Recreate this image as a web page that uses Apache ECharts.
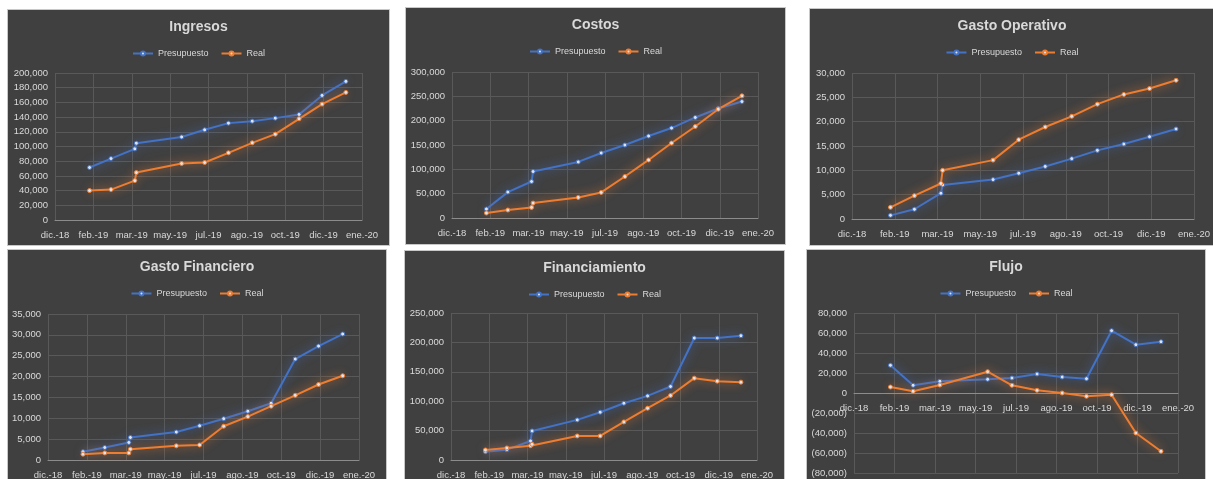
<!DOCTYPE html>
<html>
<head>
<meta charset="utf-8">
<script src="https://cdn.jsdelivr.net/npm/echarts@6/dist/echarts.min.js"></script>
<style>
  body{margin:0;background:#fff;width:1213px;height:479px;overflow:hidden;position:relative;}
  .panel{position:absolute;background:#404040;border:1px solid #c8c8c8;box-sizing:border-box;}
</style>
</head>
<body>
<div class="panel" id="c1" style="left:7px;top:9px;width:383px;height:237px"></div>
<div class="panel" id="c2" style="left:405px;top:7px;width:381px;height:238px"></div>
<div class="panel" id="c3" style="left:809px;top:8px;width:406px;height:238px"></div>
<div class="panel" id="c4" style="left:7px;top:249px;width:380px;height:234px"></div>
<div class="panel" id="c5" style="left:404px;top:250px;width:381px;height:233px"></div>
<div class="panel" id="c6" style="left:806px;top:249px;width:400px;height:234px"></div>
<script>
// etiquetas del eje x (cada 50 dias desde 17-dic-2018)
const xLabels=['dic.-18','feb.-19','mar.-19','may.-19','jul.-19','ago.-19','oct.-19','dic.-19','ene.-20'];
const baseDate='2018-12-17';
const fechas=['2019-01-31','2019-02-28','2019-03-31','2019-04-02','2019-05-31','2019-06-30','2019-07-31','2019-08-31','2019-09-30','2019-10-31','2019-11-30','2019-12-31'];
const fechasFlujo=['2019-01-31','2019-02-28','2019-04-02','2019-05-31','2019-06-30','2019-07-31','2019-08-31','2019-09-30','2019-10-31','2019-11-30','2019-12-31'];

const ingresosPres=[71400,83600,96800,104500,113000,122700,131800,134500,138600,143600,169500,188600];
const ingresosReal=[40000,41400,53600,64500,76800,78200,91400,105000,116800,137700,157700,173600];

const costosPres=[18400,53200,75000,95500,115200,133600,150000,168400,184800,206600,225000,239300];
const costosReal=[10200,16400,21800,30700,42300,52500,85200,119300,154000,188000,223600,251000];

const gastoOpPres=[750,2000,5300,7000,8100,9400,10800,12400,14100,15400,16900,18500];
const gastoOpReal=[2400,4800,7300,10000,12100,16300,18900,21100,23600,25600,26800,28500];

const gastoFinPres=[2000,3000,4200,5400,6700,8200,9900,11700,13600,24200,27300,30200];
const gastoFinReal=[1400,1700,1700,2600,3400,3600,8100,10400,12900,15500,18100,20200];

const financPres=[14200,17600,32400,49400,68200,81300,96600,109000,125000,207400,207400,211400];
const financReal=[17000,20500,24400,26700,40900,40900,64800,88100,109700,139200,134100,132400];

const flujoPres=[27700,7700,11700,13700,15000,19000,16000,14300,62300,48300,51300];
const flujoReal=[6000,1700,8000,21300,7700,2700,0,-3300,-1700,-40000,-58300];

const FONT='"Liberation Sans", Arial, sans-serif';
const TXT='#d9d9d9';

function dias(f){
  return (new Date(f+'T00:00:00Z')-new Date(baseDate+'T00:00:00Z'))/86400000;
}
function fmt(v){
  const s=Math.abs(v).toLocaleString('en-US');
  return v<0?'('+s+')':s;
}
function serie(nombre,fs,vals,color,glow){
  return {
    name:nombre,type:'line',
    data:fs.map((f,i)=>[dias(f),vals[i]]),
    symbol:'circle',symbolSize:4,
    lineStyle:{color:color,width:2,shadowBlur:10,shadowColor:glow},
    itemStyle:{color:'#dde4f0',borderColor:color,borderWidth:1},
    emphasis:{disabled:true},
    animation:false
  };
}
function hacer(id,titulo,fs,pres,real,yMin,yMax,yInt,grid,xOffset){
  const ch=echarts.init(document.getElementById(id),null,{renderer:'canvas'});
  grid.outerBoundsMode='none';
  ch.setOption({
    animation:false,
    title:{text:titulo,left:'center',top:10,padding:0,
      textStyle:{color:TXT,fontFamily:FONT,fontSize:14,fontWeight:'bold'}},
    legend:{top:39,left:'center',padding:0,itemWidth:20,itemHeight:5,itemGap:12,
      textStyle:{color:TXT,fontFamily:FONT,fontSize:9},
      data:['Presupuesto','Real']},
    grid:grid,
    xAxis:{type:'value',min:0,max:400,interval:50,offset:xOffset||0,
      axisLine:{show:true,onZero:false,lineStyle:{color:'#8c8c8c'}},
      axisTick:{show:false},
      splitLine:{show:true,lineStyle:{color:'#595959'}},
      axisLabel:{color:TXT,fontFamily:FONT,fontSize:9.5,margin:10,
        formatter:v=>xLabels[Math.round(v/50)]}},
    yAxis:{type:'value',min:yMin,max:yMax,interval:yInt,
      axisLine:{show:false},axisTick:{show:false},
      splitLine:{show:true,lineStyle:{color:'#595959'}},
      axisLabel:{color:TXT,fontFamily:FONT,fontSize:9.5,margin:7,formatter:fmt}},
    series:[
      serie('Presupuesto',fs,pres,'#4472c4','rgba(68,114,196,0.9)'),
      serie('Real',fs,real,'#ed7d31','rgba(237,125,49,0.9)')
    ]
  });
}

hacer('c1','Ingresos',fechas,ingresosPres,ingresosReal,0,200000,20000,{left:47,top:63,right:27,bottom:25});
hacer('c2','Costos',fechas,costosPres,costosReal,0,300000,50000,{left:46,top:64,right:27,bottom:26});
hacer('c3','Gasto Operativo',fechas,gastoOpPres,gastoOpReal,0,30000,5000,{left:42,top:64,right:20,bottom:26});
hacer('c4','Gasto Financiero',fechas,gastoFinPres,gastoFinReal,0,35000,5000,{left:40,top:64,right:27,bottom:22});
hacer('c5','Financiamiento',fechas,financPres,financReal,0,250000,50000,{left:46,top:62,right:27,bottom:22});
// eje x del flujo sobre la linea del cero (mitad de la altura del grid)
hacer('c6','Flujo',fechasFlujo,flujoPres,flujoReal,-80000,80000,20000,{left:47,top:63,right:27,bottom:9},-80);
</script>
</body>
</html>
